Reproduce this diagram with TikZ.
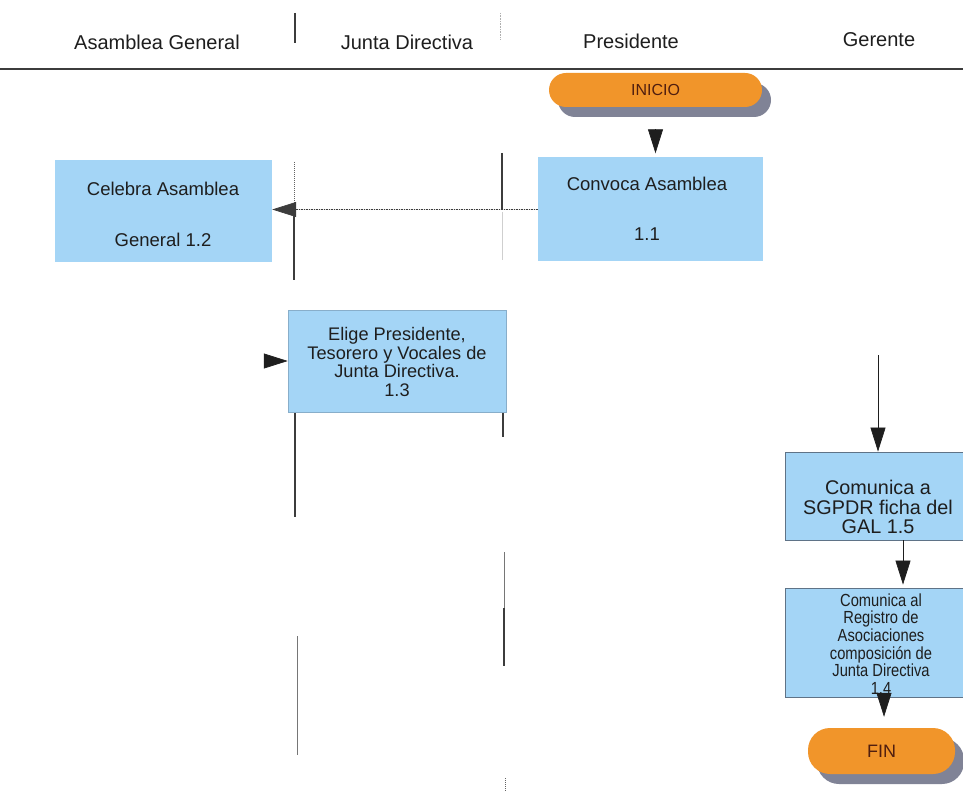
\documentclass[tikz,border=0pt]{standalone}
\usepackage{fontspec}
\setmainfont{Liberation Sans}
\newfontfamily\narrowsans[FakeStretch=0.84]{Liberation Sans}
\usetikzlibrary{arrows.meta,shadows}

\definecolor{taskblue}{RGB}{164,213,246}
\definecolor{taskedge}{RGB}{95,115,135}
\definecolor{termorange}{RGB}{241,149,42}
\definecolor{termshadow}{RGB}{128,131,150}
\definecolor{termtext}{RGB}{80,30,15}
\definecolor{inkdark}{RGB}{30,30,30}
\definecolor{lanedark}{RGB}{60,60,60}
\definecolor{lanefaint}{RGB}{175,175,175}

\begin{document}
\begin{tikzpicture}[x=1pt,y=-1pt,
  lanehead/.style={text=inkdark, font=\fontsize{20}{24}\selectfont, inner sep=0pt},
  taskbox/.style={fill=taskblue, draw=none, inner sep=0pt},
  edgedbox/.style={taskbox, draw=taskedge, line width=0.8pt},
  tasktext/.style={text=inkdark, align=center, inner sep=0pt},
  terminal/.style={fill=termorange, draw=none, inner sep=0pt, text=termtext,
    drop shadow={shadow xshift=9pt, shadow yshift=-10pt, fill=termshadow, opacity=1}},
  flow/.style={draw=inkdark, line width=0.7pt,
    -{Triangle[length=24pt,width=15pt]}, fill=inkdark},
  dotflow/.style={flow, draw=lanedark, dash pattern=on 1.5pt off 1pt},
  laneline/.style={draw=lanedark, line width=1.2pt},
  lanethin/.style={draw=lanefaint, line width=0.8pt},
  lanedot/.style={draw=lanedark!80, line width=1pt, dash pattern=on 1.2pt off 0.8pt}]

\useasboundingbox (0,0) rectangle (963,791);
\clip (0,0) rectangle (963,791);

% lane headers
\node[lanehead] (hag) at (157,42) {Asamblea General};
\node[lanehead] (hjd) at (407,42) {Junta Directiva};
\node[lanehead] (hpr) at (631,41) {Presidente};
\node[lanehead] (hge) at (879,40) {Gerente};
\draw[draw=lanedark, line width=1.4pt] (0,69) -- (963,69);

% lane separators (broken)
\draw[laneline] (295,13) -- (295,43);
\draw[lanethin, dash pattern=on 1pt off 0.6pt] (500,13) -- (500,40);
\draw[lanedot] (294,162) -- (294,203);
\draw[laneline] (294,216) -- (294,280);
\draw[laneline] (502,153) -- (502,210);
\draw[lanethin, draw=lanefaint!60] (502,212) -- (502,260);
\draw[laneline] (295,412) -- (295,517);
\draw[laneline] (503,412) -- (503,437);
\draw[lanethin, draw=lanedark!70] (504,552) -- (504,608);
\draw[laneline] (504,608) -- (504,666);
\draw[lanethin, draw=lanedark!70] (297,636) -- (297,755);
\draw[lanedot] (505,778) -- (505,791);

% terminals
\node[terminal, minimum width=213pt, minimum height=34pt, rounded corners=17pt,
  font=\fontsize{16}{18}\selectfont] (inicio) at (655.5,90) {INICIO};
\node[terminal, minimum width=147pt, minimum height=46pt, rounded corners=22pt,
  font=\fontsize{18}{20}\selectfont] (fin) at (881.5,751) {FIN};

% task boxes
\node[taskbox, minimum width=225pt, minimum height=104pt] (b11) at (650.5,209.5) {};
\node[taskbox, minimum width=217pt, minimum height=102pt] (b12) at (163.5,211) {};
\node[taskbox, minimum width=218pt, minimum height=102pt, draw=taskblue!60!taskedge, line width=0.5pt] (b13) at (397,361) {};
\node[edgedbox, minimum width=186pt, minimum height=88pt] (b15) at (878,496) {};
\node[edgedbox, minimum width=192pt, minimum height=109pt] (b14) at (881,642.5) {};

% task texts
\node[tasktext, font=\fontsize{18.5}{22}\selectfont] (t11) at (647,209)
  {Convoca Asamblea\\[28pt]1.1};
\node[tasktext, font=\fontsize{18.5}{22}\selectfont] (t12) at (163,214.5)
  {Celebra Asamblea\\[29pt]General 1.2};
\node[tasktext, font=\fontsize{18.2}{18.4}\selectfont] (t13) at (397,362)
  {Elige Presidente,\\Tesorero y Vocales de\\Junta Directiva.\\1.3};
\node[tasktext, font=\fontsize{19.8}{19.5}\selectfont] (t15) at (878,507)
  {Comunica a\\SGPDR ficha del\\GAL 1.5};
\node[tasktext, font=\narrowsans\fontsize{17.5}{17.6}\selectfont] (t14) at (881,644)
  {Comunica al\\Registro de\\Asociaciones\\composición de\\Junta Directiva\\1.4};

% loose ends of incoming connectors
\coordinate (j13) at (264,361);
\coordinate (g15) at (878,355);

% connectors
\draw[flow, shorten <=22pt, shorten >=4pt] (inicio.south) -- (inicio.south |- b11.north);
\draw[dotflow] (b11.west) -- (b11.west -| b12.east);
\draw[flow] (j13) -- (b13.west);
\draw[flow] (g15) -- (b15.north);
\draw[flow, shorten >=3pt] ([xshift=25pt]b15.south) -- ([xshift=25pt]b15.south |- b14.north);
\draw[flow, shorten >=11pt] ([xshift=3pt]b14.south) -- ([xshift=3pt]b14.south |- fin.north);
\end{tikzpicture}
\end{document}
